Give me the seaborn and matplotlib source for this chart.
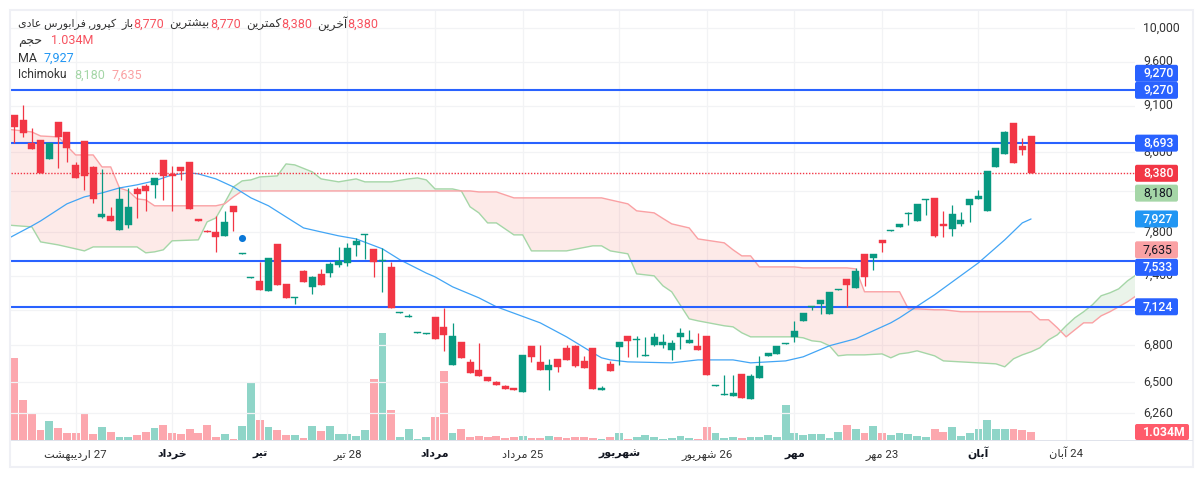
import numpy as np
import seaborn as sns
from matplotlib import pyplot as plt
from matplotlib.patches import FancyBboxPatch, Rectangle
from matplotlib.ticker import FixedLocator, FuncFormatter, NullLocator
from matplotlib.transforms import IdentityTransform, ScaledTranslation

W, H = 1203, 478

# candles, one per session
open_ = [8995, 8941, 8695, 8727, 8527, 8920, 8812, 8466, 8716, 8445, 7947, 7957, 7822, 7870, 8222, 8252, 8263, 8517, 8374, 8445,
         8496, 7922, 7812, 7803, 7766, 8055, 7594, 7375, 7352, 7263, 7691, 7325, 7198, 7442, 7299, 7415, 7424, 7497, 7515, 7681,
         7775, 7644, 7529, 7478, 7068, 7033, 6898, 6890, 7037, 6952, 6638, 6827, 6662, 6598, 6542, 6502, 6471, 6455, 6423, 6794,
         6662, 6598, 6687, 6777, 6794, 6670, 6777, 6439, 6646, 6785, 6877, 6844, 6707, 6802, 6802, 6761, 6868, 6819, 6794, 6877,
         6467, 6396, 6392, 6566, 6369, 6534, 6711, 6727, 6806, 6868, 7003, 7120, 7150, 7063, 7268, 7370, 7290, 7598, 7561, 7728,
         7808, 7851, 7972, 7908, 8108, 8133, 7880, 7832, 7880, 8064, 8123, 8006, 8445, 8579, 8909, 8663, 8770]
high = [8995, 9106, 8855, 8727, 8695, 8920, 8812, 8496, 8716, 8456, 8425, 8045, 8242, 8232, 8242, 8273, 8333, 8517, 8456, 8445,
        8496, 7922, 7822, 7957, 8006, 8055, 7603, 7384, 7524, 7561, 7691, 7325, 7206, 7451, 7397, 7460, 7524, 7662, 7700, 7747,
        7784, 7644, 7653, 7524, 7076, 7063, 6906, 6898, 7037, 7115, 6986, 6827, 6687, 6819, 6542, 6510, 6478, 6455, 6719, 6794,
        6802, 6687, 6687, 6802, 6802, 6711, 6777, 6471, 6670, 6827, 6877, 6877, 6868, 6902, 6894, 6843, 6944, 6927, 6902, 6877,
        6478, 6558, 6558, 6566, 6566, 6711, 6736, 6794, 6815, 7003, 7072, 7128, 7184, 7255, 7276, 7370, 7469, 7598, 7598, 7728,
        7817, 7880, 7996, 8074, 8118, 8133, 8006, 8064, 7996, 8123, 8212, 8404, 8642, 8823, 8909, 8748, 8770]
low = [8695, 8759, 8631, 8384, 8527, 8435, 8496, 8333, 8212, 8084, 7937, 7908, 7822, 7841, 7937, 8006, 8133, 8113, 8006, 8313,
       8025, 7912, 7798, 7616, 7766, 7812, 7594, 7375, 7272, 7263, 7316, 7202, 7150, 7343, 7237, 7316, 7388, 7478, 7487, 7579,
       7552, 7388, 7255, 7115, 7068, 7033, 6898, 6890, 6852, 6752, 6638, 6695, 6574, 6550, 6510, 6478, 6447, 6439, 6423, 6662,
       6598, 6439, 6582, 6678, 6622, 6614, 6447, 6439, 6590, 6638, 6703, 6703, 6707, 6794, 6777, 6678, 6769, 6819, 6761, 6558,
       6467, 6396, 6392, 6377, 6369, 6534, 6711, 6727, 6806, 6827, 7003, 7098, 7063, 7063, 7268, 7124, 7290, 7308, 7451, 7616,
       7808, 7851, 7870, 7908, 7966, 7756, 7756, 7766, 7860, 7899, 8123, 8006, 8445, 8579, 8486, 8569, 8380]
close = [8866, 8802, 8631, 8384, 8695, 8759, 8642, 8333, 8353, 8123, 7976, 7908, 8123, 8045, 8172, 8202, 8333, 8353, 8353, 8404,
         8025, 7912, 7798, 7756, 7899, 7996, 7603, 7384, 7272, 7561, 7316, 7202, 7206, 7343, 7388, 7316, 7506, 7533, 7653, 7719,
         7784, 7524, 7537, 7115, 7076, 7041, 6906, 6898, 6852, 6885, 6877, 6695, 6574, 6550, 6510, 6478, 6447, 6439, 6719, 6703,
         6598, 6638, 6622, 6678, 6630, 6614, 6447, 6455, 6590, 6827, 6835, 6852, 6715, 6868, 6827, 6819, 6902, 6843, 6761, 6558,
         6475, 6404, 6416, 6377, 6550, 6630, 6736, 6794, 6815, 6919, 7072, 7128, 7184, 7255, 7276, 7316, 7442, 7388, 7598, 7700,
         7817, 7880, 7981, 8074, 8118, 7766, 7860, 7976, 7918, 8123, 8153, 8404, 8642, 8812, 8486, 8621, 8380]
# volume in millions
volume = [10.58, 5.16, 3.48, 1.29, 2.45, 1.55, 0.90, 0.90, 3.48, 0.78, 1.68, 1.03, 0.39, 0.39, 0.65, 1.03, 1.55, 1.94, 0.90, 0.78,
          1.42, 0.90, 1.94, 0.39, 0.78, 0.13, 1.81, 7.35, 2.58, 1.68, 1.29, 0.65, 0.65, 0.26, 1.81, 1.16, 1.81, 0.78, 0.78, 0.52,
          1.29, 7.87, 13.80, 3.87, 0.39, 1.42, 0.13, 0.39, 2.97, 8.90, 0.90, 1.42, 0.39, 0.52, 0.39, 0.52, 0.26, 0.39, 0.52, 0.26,
          0.26, 0.52, 0.39, 0.26, 0.39, 0.39, 0.26, 0.13, 0.39, 0.90, 0.13, 0.39, 0.65, 0.39, 0.13, 0.26, 0.52, 0.26, 0.13, 1.68,
          0.90, 0.26, 0.39, 0.26, 0.39, 0.39, 0.65, 0.39, 4.52, 0.90, 0.65, 0.78, 0.78, 0.26, 1.03, 1.94, 1.42, 0.90, 1.81, 0.90,
          0.65, 0.90, 0.78, 0.52, 0.39, 1.42, 1.03, 1.68, 0.52, 0.90, 1.42, 2.58, 1.42, 1.42, 1.42, 1.29, 1.034]

# moving average, read at the bends of the line
ma_idx = [-1, 2, 3, 6, 8, 10, 12, 14, 16, 18, 20, 21, 23, 25, 27, 29, 31, 33, 35, 37, 39, 42, 44, 47, 48, 50, 53, 55, 60, 63,
          66, 67, 68, 70, 75, 77, 78, 82, 84, 88, 90, 93, 96, 100, 101, 105, 110, 113, 115, 116]
ma_val = [7728, 7860, 7908, 8074, 8143, 8182, 8232, 8263, 8303, 8363, 8384, 8374, 8323, 8242, 8133, 8055, 7947, 7841, 7803, 7766,
          7737, 7644, 7543, 7422, 7388, 7299, 7202, 7124, 6986, 6868, 6736, 6695, 6678, 6662, 6654, 6670, 6678, 6678, 6654, 6670,
          6703, 6794, 6852, 6986, 7029, 7229, 7515, 7728, 7889, 7927]

# ichimoku cloud, both spans read at the same sessions
cloud_idx = [-1, 2, 3, 5, 7, 8, 9, 10, 11, 12, 13, 14, 15, 16, 17, 18, 21, 22, 23, 24, 25, 26, 27, 28, 30, 31, 32, 34, 35, 37,
             39, 40, 43, 45, 46, 47, 48, 50, 51, 52, 53, 54, 55, 57, 58, 59, 63, 66, 67, 68, 70, 71, 73, 74, 75, 77, 78, 81, 82, 83,
             84, 85, 89, 90, 91, 92, 93, 94, 95, 96, 97, 99, 100, 101, 102, 103, 105, 106, 108, 110, 112, 113, 114, 115, 116, 117, 118, 119, 120, 121,
             122, 123, 124, 125, 126, 127, 128]
span_a = [7870, 7851, 7709, 7681, 7644, 7625, 7662, 7662, 7662, 7662, 7662, 7662, 7607, 7616, 7635, 7719, 7728, 7899, 7937, 8084,
          8242, 8303, 8313, 8343, 8353, 8476, 8466, 8394, 8323, 8293, 8323, 8293, 8293, 8323, 8333, 8313, 8222, 8222, 8202, 8045,
          7986, 7889, 7889, 7775, 7775, 7625, 7625, 7672, 7672, 7625, 7598, 7415, 7397, 7308, 7255, 7020, 7003, 6961, 6952, 6902,
          6868, 6868, 6868, 6860, 6835, 6827, 6794, 6711, 6719, 6719, 6719, 6727, 6695, 6727, 6736, 6752, 6711, 6670, 6662, 6654,
          6646, 6622, 6687, 6719, 6744, 6777, 6843, 6885, 6961, 7029, 7081, 7141, 7220, 7246, 7281, 7352, 7406]
span_b = [8844, 8812, 8769, 8759, 8569, 8569, 8569, 8445, 8445, 8232, 8202, 8123, 8113, 8055, 8055, 8055, 8055, 8055, 8055, 8074,
          8143, 8202, 8202, 8202, 8202, 8202, 8202, 8202, 8202, 8202, 8202, 8202, 8202, 8202, 8202, 8202, 8202, 8202, 8202, 8202,
          8192, 8192, 8192, 8133, 8133, 8133, 8133, 8133, 8133, 8113, 8074, 8006, 7986, 7932, 7880, 7841, 7737, 7700, 7635, 7579,
          7579, 7478, 7478, 7469, 7469, 7469, 7469, 7469, 7469, 7460, 7255, 7255, 7255, 7255, 7106, 7106, 7098, 7098, 7081, 7081,
          7081, 7081, 7081, 7081, 7081, 7012, 7012, 6944, 6868, 6927, 6986, 6986, 7046, 7081, 7124, 7167, 7220]

level_lines = [9270, 8693, 7533, 7124]
last_price = 8380
event_idx, event_price = 26, 7747

y_ticks = [10000, 9600, 9100, 8600, 8200, 7800, 7400, 7100, 6800, 6500, 6260]
hidden_y_labels = [8200, 7100]  # sit behind the price tags
x_tick_idx = [7, 18, 28, 38, 48, 58, 69, 79, 89, 99, 110, 120]
x_tick_labels = ["27 اردیبهشت", "خرداد", "تیر", "28 تیر", "مرداد", "25 مرداد", "شهریور", "26 شهریور", "مهر", "23 مهر", "آبان", "24 آبان"]
x_tick_bold = [False, True, True, False, True, False, True, False, True, False, True, False]

RED = "#F23645"
SOFT_RED = "#F7525F"
GREEN = "#089981"
BLUE = "#2962FF"
MA_BLUE = "#2196F3"
CLOUD_GREEN = "#A5D6A7"
CLOUD_RED = "#FAA1A4"

# matplotlib does no arabic shaping, so pick the joined glyphs here
# isolated, final, initial, medial
FORMS = {
    "ا": "\ufe8d\ufe8e", "آ": "\ufe81\ufe82", "د": "\ufea9\ufeaa", "ر": "\ufead\ufeae", "و": "\ufeed\ufeee",
    "ب": "\ufe8f\ufe90\ufe91\ufe92", "پ": "\ufb56\ufb57\ufb58\ufb59", "ت": "\ufe95\ufe96\ufe97\ufe98",
    "ج": "\ufe9d\ufe9e\ufe9f\ufea0", "ح": "\ufea1\ufea2\ufea3\ufea4", "خ": "\ufea5\ufea6\ufea7\ufea8",
    "س": "\ufeb1\ufeb2\ufeb3\ufeb4", "ش": "\ufeb5\ufeb6\ufeb7\ufeb8", "ع": "\ufec9\ufeca\ufecb\ufecc",
    "ف": "\ufed1\ufed2\ufed3\ufed4", "ک": "\ufb8e\ufb8f\ufb90\ufb91", "م": "\ufee1\ufee2\ufee3\ufee4",
    "ن": "\ufee5\ufee6\ufee7\ufee8", "ه": "\ufee9\ufeea\ufeeb\ufeec", "ی": "\ufbfc\ufbfd\ufbfe\ufbff",
    "ز": "\ufeaf\ufeb0",
}


def shape_fa(text):
    words = []
    for word in text.split(" "):
        if not any(ch in FORMS for ch in word):
            words.append(word)
            continue
        out = []
        for i, ch in enumerate(word):
            if ch not in FORMS:
                out.append(ch)
                continue
            prev_ch = word[i - 1] if i > 0 else ""
            next_ch = word[i + 1] if i + 1 < len(word) else ""
            joins_prev = prev_ch in FORMS and len(FORMS[prev_ch]) == 4
            joins_next = next_ch in FORMS and len(FORMS[ch]) == 4
            out.append(FORMS[ch][(1 if joins_prev else 0) + (2 if joins_next else 0)])
        words.append("".join(reversed(out)))
    return " ".join(reversed(words))


sns.set_theme(style="white")
plt.rcParams["font.family"] = ["Roboto", "DejaVu Sans"]

fig = plt.figure(figsize=(W / 100, H / 100), dpi=100, facecolor="white")
pos = [10.5 / W, 1 - 440 / H, (1135 - 10.5) / W, (440 - 11) / H]
ax_vol = fig.add_axes(pos, zorder=0)
ax = fig.add_axes(pos, zorder=1)
ax.patch.set_visible(False)

idx = np.arange(len(close))
o, h, l, c = map(np.array, (open_, high, low, close))
up = c >= o
x_range = (-0.434, 127.86)

# volume
direction = ["up" if u else "down" for u in up]
sns.barplot(x=idx, y=volume, hue=direction, palette={"up": "#8FD5C8", "down": "#FCA7AE"}, native_scale=True, dodge=False,
            width=0.89, saturation=1, linewidth=0, errorbar=None, legend=False, ax=ax_vol)
ax_vol.set_xlim(*x_range)
ax_vol.set_ylim(0, 55.45)
ax_vol.axis("off")

# price pane
ax.set_yscale("log")
ax.set_ylim(6058, 10209)
ax.set_xlim(*x_range)

a, b = np.array(span_a), np.array(span_b)
ax.fill_between(cloud_idx, a, b, where=a >= b, interpolate=True, color="#43A047", alpha=0.11, linewidth=0, zorder=1)
ax.fill_between(cloud_idx, a, b, where=a <= b, interpolate=True, color="#F44336", alpha=0.11, linewidth=0, zorder=1)
sns.lineplot(x=cloud_idx, y=span_a, color=CLOUD_GREEN, linewidth=1.0, estimator=None, sort=False, zorder=2, ax=ax)
sns.lineplot(x=cloud_idx, y=span_b, color=CLOUD_RED, linewidth=1.0, estimator=None, sort=False, zorder=2, ax=ax)
sns.lineplot(x=ma_idx, y=ma_val, color="#42A5F5", linewidth=0.9, estimator=None, sort=False, zorder=2.5, ax=ax)

for level in level_lines:
    ax.axhline(level, color=BLUE, linewidth=1.5, zorder=3)
ax.axhline(last_price, color=RED, linewidth=1.0, linestyle=(0, (1, 1.2)), zorder=3)

candle_colors = np.where(up, GREEN, RED)
ax.vlines(idx, l, h, colors=candle_colors, linewidth=0.9, zorder=5)
ax.bar(idx, np.abs(c - o), bottom=np.minimum(o, c), width=0.8, color=candle_colors, edgecolor=candle_colors, linewidth=0.3, zorder=5)
ax.scatter([event_idx], [event_price], s=26, color="#0B78D8", linewidths=0, zorder=6)

ax.grid(True, color="#F2F3F5", linewidth=0.9)
ax.set_axisbelow(True)
for spine in ax.spines.values():
    spine.set_visible(False)
ax.yaxis.tick_right()
ax.yaxis.set_major_locator(FixedLocator(y_ticks))
ax.yaxis.set_minor_locator(NullLocator())
ax.yaxis.set_major_formatter(FuncFormatter(lambda v, _: "" if int(v) in hidden_y_labels else f"{int(v):,}"))
ax.tick_params(axis="y", which="both", length=0, pad=5.8, labelsize=8.8, labelcolor="#333333")
lift = ScaledTranslation(0, 1.5 / 100, fig.dpi_scale_trans)
for lab in ax.get_yticklabels():
    lab.set_transform(lab.get_transform() + lift)
ax.set_xticks(x_tick_idx)
ax.set_xticklabels([shape_fa(t) for t in x_tick_labels], fontsize=8.2, color="#333333")
for lab, bold in zip(ax.get_xticklabels(), x_tick_bold):
    lab.set_va("baseline")
    if bold:
        lab.set_fontweight("bold")
        lab.set_fontsize(7.9)
        lab.set_color("#131722")
ax.tick_params(axis="x", length=0, pad=12)


def put(x, y, s, color="#333333", size=9, weight="normal", ha="left"):
    fig.text(x / W, 1 - y / H, s, color=color, fontsize=size, fontweight=weight, ha=ha, va="center", zorder=7)


def tag(x, y, w, height, color):
    fig.add_artist(FancyBboxPatch((x, H - y - height), w, height, boxstyle="round,pad=0,rounding_size=2",
                                  transform=IdentityTransform(), facecolor=color, edgecolor="none", zorder=5))


# frame and time axis line
fig.add_artist(Rectangle((9.5, H - 467), 1183.5, 457, transform=IdentityTransform(), facecolor="none", edgecolor="#EFF0F5", linewidth=1.5, zorder=4))
fig.add_artist(Rectangle((10.5, H - 441), 1182, 1, transform=IdentityTransform(), facecolor="#E0E3EB", edgecolor="none", zorder=4))

# price tags on the scale: price, text, box colour, text colour, shift in pixels
price_tags = [
    (9270, "9,270", BLUE, "white", -17),
    (9270, "9,270", BLUE, "white", 0),
    (8693, "8,693", BLUE, "white", 0),
    (8380, "8,380", RED, "white", 0),
    (8180, "8,180", CLOUD_GREEN, "#131722", 0),
    (7927, "7,927", MA_BLUE, "white", 0),
    (7635, "7,635", CLOUD_RED, "#131722", 0),
    (7533, "7,533", BLUE, "white", 6.5),
    (7124, "7,124", BLUE, "white", 0),
]
for price, text, box, ink, shift in price_tags:
    y_px = H - ax.transData.transform((0, price))[1] + shift
    tag(1135, y_px - 8.5, 43, 17, box)
    put(1143, y_px, text, color=ink, size=8.8, weight="medium" if ink == "white" else "normal")
tag(1135, 424, 54, 16, "#FF5B6B")
put(1143, 432, "1.034M", color="white", size=8.8, weight="bold")

# legend block
put(18, 24, shape_fa("کپرور, فرابورس عادی"), size=7.9)
put(122, 24, shape_fa("باز"), size=8.2)
put(133, 24, "8,770", color=SOFT_RED)
put(169, 24, shape_fa("بیشترین"), size=8.6)
put(210, 24, "8,770", color=SOFT_RED)
put(246, 24, shape_fa("کمترین"), size=8.6)
put(281, 24, "8,380", color=SOFT_RED)
put(317, 24, shape_fa("آخرین"), size=8.7)
put(347, 24, "8,380", color=SOFT_RED)
put(18, 41, shape_fa("حجم"), size=9)
put(51, 41, "1.034M", color=SOFT_RED)
put(18, 58, "MA")
put(44, 58, "7,927", color=MA_BLUE)
put(18, 75, "Ichimoku", size=8.6)
put(74, 75, "8,180", color=CLOUD_GREEN)
put(111, 75, "7,635", color=CLOUD_RED)

fig.savefig("out.png", dpi=100, facecolor="white")
